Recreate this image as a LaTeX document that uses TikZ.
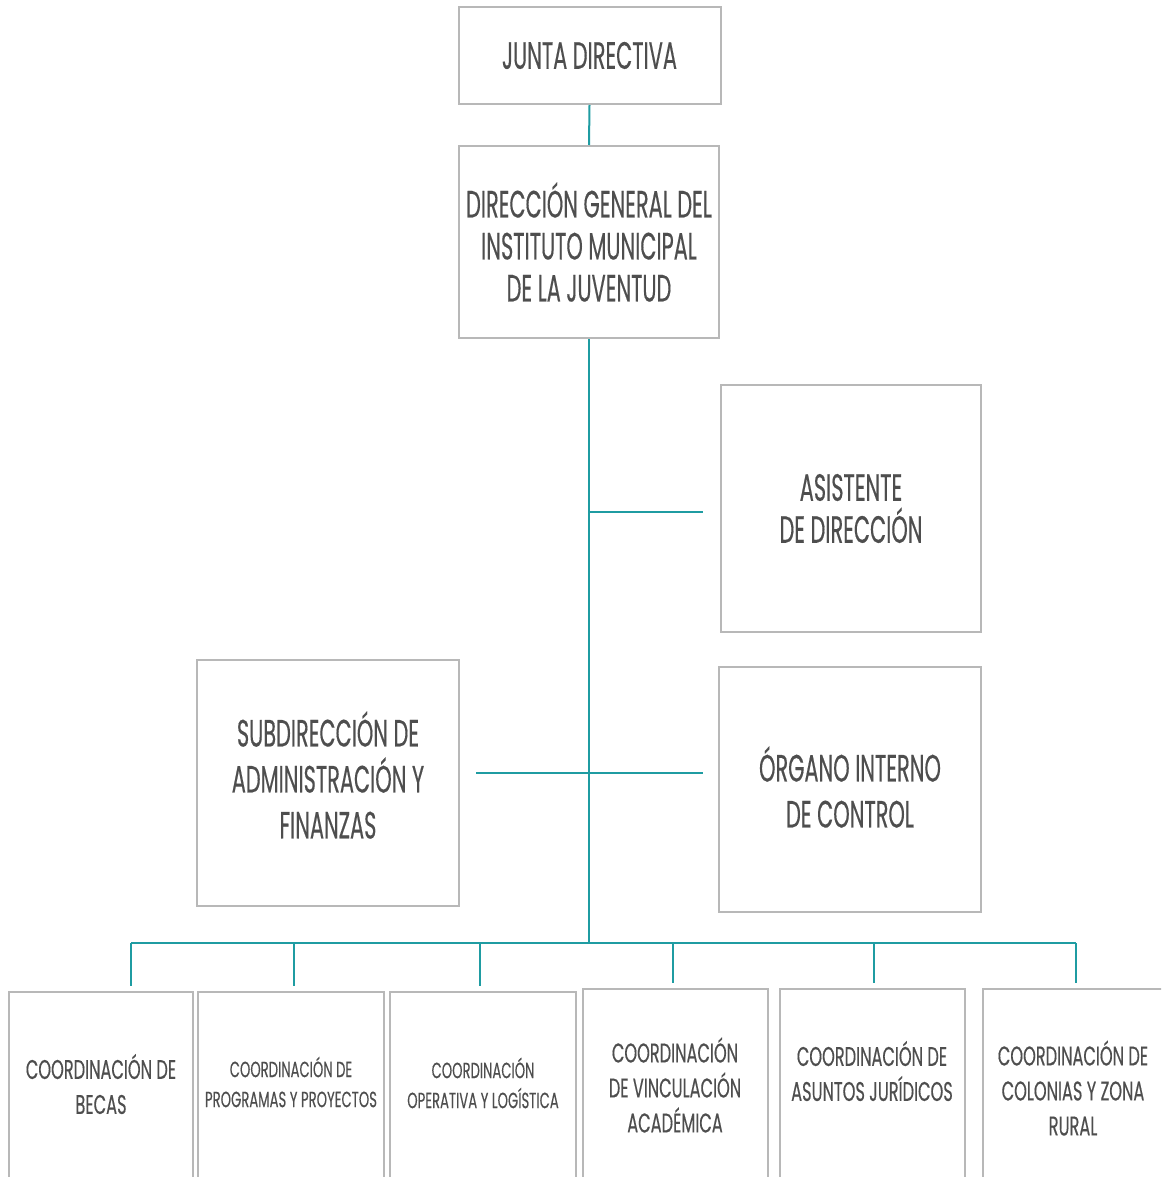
\documentclass[tikz,border=0pt]{standalone}
\usepackage{fontspec}
\newfontfamily\orgfont{Poppins}[FakeStretch=0.55,FakeBold=0.3]
\newfontfamily\coordfont{Poppins}[FakeStretch=0.6,FakeBold=0.3]
\definecolor{linkteal}{RGB}{31,156,162}
\definecolor{boxgray}{RGB}{184,184,184}
\definecolor{txtgray}{RGB}{78,78,78}

\begin{document}
\begin{tikzpicture}[x=1pt,y=-1pt,
    unit/.style={draw=boxgray,line width=2pt,fill=white,inner sep=0pt,
      align=center,text=txtgray,font=\orgfont\fontsize{38}{42}\selectfont},
    coord/.style={unit,anchor=north,minimum height=220pt},
    toptext/.style={align=center,text=txtgray,inner sep=0pt,font=\orgfont\fontsize{38}{46}\selectfont},
    lbl/.style={align=center,text=txtgray,inner sep=0pt,font=\coordfont\fontsize{27}{35}\selectfont},
    lblsmall/.style={lbl,font=\coordfont\fontsize{22}{30}\selectfont},
    link/.style={draw=linkteal,line width=2pt}]

    \path[use as bounding box,fill=white] (0,0) rectangle (1161,1177);
    \clip (0,0) rectangle (1161,1177);

    \node[unit,minimum width=262pt,minimum height=97pt] (jd) at (589.5,55.5) {JUNTA DIRECTIVA};
    \node[unit,minimum width=260pt,minimum height=192pt] (dg) at (589,242) {DIRECCIÓN GENERAL DEL\\INSTITUTO MUNICIPAL\\DE LA JUVENTUD};
    \node[unit,minimum width=260pt,minimum height=247pt] (as) at (851,508.5) {ASISTENTE\\DE DIRECCIÓN};
    \node[unit,minimum width=262pt,minimum height=245pt] (oc) at (850,789.5) {};
    \node[unit,minimum width=262pt,minimum height=246pt] (sa) at (328,783) {};
    \node[toptext] (oct) at (850,787) {ÓRGANO INTERNO\\DE CONTROL};
    \node[toptext] (sat) at (328,775) {SUBDIRECCIÓN DE\\ADMINISTRACIÓN Y\\FINANZAS};

    \node[coord,minimum width=184pt] (b1) at (101,991) {};
    \node[coord,minimum width=186pt] (b2) at (291,991) {};
    \node[coord,minimum width=186pt] (b3) at (483,991) {};
    \node[coord,minimum width=185pt] (b4) at (675.5,988) {};
    \node[coord,minimum width=185pt] (b5) at (872.5,988) {};
    \node[coord,minimum width=186pt] (b6) at (1076,988) {};

    \node[lbl] (t1) at (101,1084) {COORDINACIÓN DE\\BECAS};
    \node[lblsmall] (t2) at (291,1082) {COORDINACIÓN DE\\PROGRAMAS Y PROYECTOS};
    \node[lblsmall] (t3) at (483,1083) {COORDINACIÓN\\OPERATIVA Y LOGÍSTICA};
    \node[lbl] (t4) at (675,1085) {COORDINACIÓN\\DE VINCULACIÓN\\ACADÉMICA};
    \node[lbl] (t5) at (872,1071) {COORDINACIÓN DE\\ASUNTOS JURÍDICOS};
    \node[lbl] (t6) at (1073,1088) {COORDINACIÓN DE\\COLONIAS Y ZONA\\RURAL};

    \coordinate (bus) at (589,943);
    \coordinate (ja) at (589,512);
    \coordinate (ea) at (703,512);
    \coordinate (es) at (476,773);
    \coordinate (eo) at (703,773);
    \coordinate (bl) at (131,943);
    \coordinate (br) at (1076,943);

    \draw[link] (jd.south) -- (dg.north);
    \draw[link] (dg.south) -- (bus);
    \draw[link] (ja) -- (ea);
    \draw[link] (es) -- (eo);
    \draw[link] (bl) -- (br);
    \foreach \x/\n in {131/1,294/2,480/3,673/4,874/5,1076/6}
        \draw[link] (\x,943) -- ([yshift=5pt]b\n.north -| \x,0);
\end{tikzpicture}
\end{document}
